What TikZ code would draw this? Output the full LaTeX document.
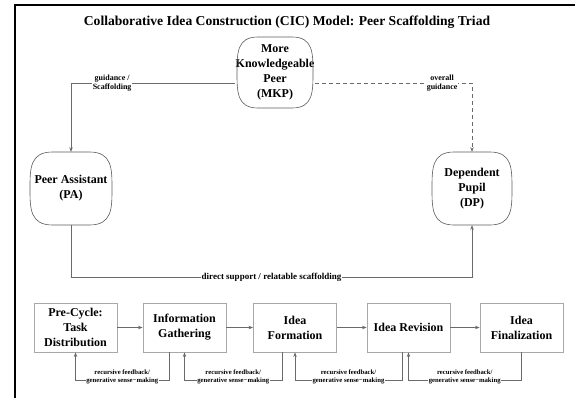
\documentclass[tikz,border=0pt]{standalone}
\usepackage{fontspec}
\setmainfont{Liberation Serif}
\usetikzlibrary{arrows.meta,calc}
\definecolor{conncol}{HTML}{6A6A6A}
\definecolor{boxcol}{HTML}{A8A8A8}
\definecolor{blobcol}{HTML}{5A5A5A}
\tikzset{
  blob/.style={inner sep=0pt, minimum width=#1, align=center, font=\fontsize{12}{15}\selectfont\bfseries},
  stagebox/.style={draw=boxcol, line width=0.9pt, minimum width=83pt, minimum height=49pt, align=center, inner sep=1pt, font=\fontsize{12}{15}\selectfont\bfseries},
  conn/.style={draw=conncol, line width=0.7pt},
  tip/.style={-{Stealth[length=4.5pt,width=3.5pt]}},
  lbl/.style={fill=white, inner sep=1pt, align=center, font=\fontsize{8}{9.5}\selectfont\bfseries},
  lblbig/.style={fill=white, inner sep=1pt, align=center, font=\fontsize{9}{10}\selectfont\bfseries},
  lblsmall/.style={fill=white, inner sep=0.5pt, align=center, font=\fontsize{6.7}{8.2}\selectfont\bfseries},
  blobline/.style={draw=blobcol, line width=0.6pt}
}
\newcommand\blobdraw[3]{% name, half width, half height
  \path[blobline] ($(#1)+(-0.45*#2,-#3)$) -- ($(#1)+(0.45*#2,-#3)$)
    .. controls ($(#1)+(#2,-#3)$) and ($(#1)+(#2,-0.55*#3)$) .. ($(#1)+(#2,0)$)
    .. controls ($(#1)+(#2,0.55*#3)$) and ($(#1)+(#2,#3)$) .. ($(#1)+(0.45*#2,#3)$)
    -- ($(#1)+(-0.45*#2,#3)$)
    .. controls ($(#1)+(-#2,#3)$) and ($(#1)+(-#2,0.55*#3)$) .. ($(#1)+(-#2,0)$)
    .. controls ($(#1)+(-#2,-0.55*#3)$) and ($(#1)+(-#2,-#3)$) .. cycle;}
\begin{document}
\begin{tikzpicture}[x=1pt,y=-1pt]
\useasboundingbox (0,0) rectangle (575,398);
\draw[line width=2.4pt] (15,398) -- (15,5) -- (575,5);
\node[font=\fontsize{13.6}{15}\selectfont\bfseries] (title) at (287,22) {Collaborative Idea Construction (CIC) Model: Peer Scaffolding Triad};

% triad nodes
\node[blob=76pt, minimum height=71pt] (MKP) at (275,72.5) {More\\Knowledgeable\\Peer\\(MKP)};
\node[blob=82pt, minimum height=73pt] (PA) at (71,188.5) {Peer Assistant\\(PA)};
\node[blob=80pt, minimum height=73pt] (DP) at (472,188.5) {Dependent\\Pupil\\(DP)};
\blobdraw{MKP}{38}{35.5}
\blobdraw{PA}{41}{36.5}
\blobdraw{DP}{40}{36.5}

\draw[conn,tip] ([yshift=-10.5pt]MKP.west) -| node[lbl,pos=0.375] {guidance /\\Scaffolding} (PA.north);
\draw[conn,tip,dashed,dash pattern=on 4.5pt off 2.5pt] ([yshift=-10.5pt]MKP.east) -| node[lbl,pos=0.405] {overall\\guidance} (DP.north);
\coordinate (bl) at (71,277);
\coordinate (br) at (472,277);
\draw[conn,tip] (PA.south) -- (bl) -- node[lblbig] {direct support / relatable scaffolding} (br) -- (DP.south);

% stage boxes
\node[stagebox] (B1) at (75.5,327.5) {Pre-Cycle:\\Task\\Distribution};
\node[stagebox] (B2) at (184.5,327.5) {Information\\Gathering};
\node[stagebox] (B3) at (295,327.5) {Idea\\Formation};
\node[stagebox] (B4) at (408.5,327.5) {Idea Revision};
\node[stagebox] (B5) at (521.5,327.5) {Idea\\Finalization};
\draw[conn,tip] (B1) -- (B2);
\draw[conn,tip] (B2) -- (B3);
\draw[conn,tip] (B3) -- (B4);
\draw[conn,tip] (B4) -- (B5);

% feedback loops
\coordinate (f1) at (169,380);
\coordinate (f2) at (282,380);
\coordinate (f3) at (402,380);
\coordinate (f4) at (521,380);
\draw[conn,tip] (B2.south -| f1) -- (f1) -- node[lblsmall,yshift=3pt] {recursive feedback/\\generative sense−making} (B1.south |- f1) -- (B1.south);
\draw[conn,tip] (B3.south -| f2) -- (f2) -- node[lblsmall,yshift=3pt] {recursive feedback/\\generative sense−making} (B2.south |- f2) -- (B2.south);
\draw[conn,tip] (B4.south -| f3) -- (f3) -- node[lblsmall,yshift=3pt] {recursive feedback/\\generative sense−making} (B3.south |- f3) -- (B3.south);
\draw[conn,tip] (B5.south -| f4) -- (f4) -- node[lblsmall,yshift=3pt] {recursive feedback/\\generative sense−making} (B4.south |- f4) -- (B4.south);
\end{tikzpicture}
\end{document}
